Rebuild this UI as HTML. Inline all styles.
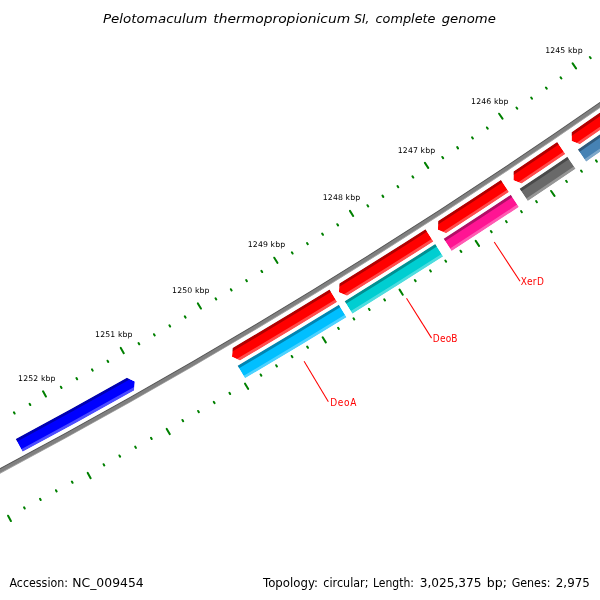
<!DOCTYPE html>
<html><head><meta charset="utf-8"><title>Pelotomaculum thermopropionicum SI, complete genome</title>
<style>
html,body{margin:0;padding:0;background:#fff}
body{width:600px;height:600px;overflow:hidden}
svg{display:block}
text{font-family:"DejaVu Sans","Liberation Sans",sans-serif;fill:#000}
.tk{font-size:7.75px}
.fl{font-family:"DejaVu Sans Condensed","DejaVu Sans","Liberation Sans",sans-serif;font-size:10px;letter-spacing:0.45px;fill:#ff0000}
.ti{font-size:13px;font-style:italic}
.ft{font-size:12px}
</style></head><body>
<svg width="600" height="600" viewBox="0 0 600 600">
<rect width="600" height="600" fill="#fff"/>
<path d="M8.09 515.75 L10.89 521.05 M24.08 507.28 L24.73 508.52 M-1.09 421.99 L-1.75 420.75 M40.03 498.76 L40.69 500.00 M14.60 413.55 L13.94 412.31 M55.96 490.20 L56.63 491.43 M30.28 405.06 L29.61 403.83 M71.87 481.59 L72.54 482.82 M45.92 396.52 L43.04 391.26 M87.75 472.92 L90.63 478.19 M61.54 387.94 L60.87 386.72 M103.60 464.21 L104.28 465.44 M77.13 379.31 L76.45 378.09 M119.43 455.46 L120.11 456.68 M92.70 370.63 L92.02 369.41 M135.23 446.65 L135.91 447.87 M108.24 361.91 L107.55 360.69 M151.00 437.79 L151.69 439.01 M123.75 353.14 L120.79 347.92 M166.74 428.89 L169.70 434.11 M139.24 344.32 L138.55 343.10 M182.46 419.94 L183.16 421.15 M154.70 335.45 L154.00 334.24 M198.15 410.94 L198.85 412.15 M170.13 326.54 L169.43 325.33 M213.81 401.89 L214.52 403.10 M185.54 317.58 L184.83 316.37 M229.45 392.80 L230.15 394.01 M200.92 308.57 L197.88 303.40 M245.06 383.66 L248.10 388.83 M216.27 299.51 L215.55 298.31 M260.64 374.47 L261.35 375.67 M231.59 290.41 L230.87 289.21 M276.19 365.23 L276.90 366.43 M246.89 281.26 L246.17 280.06 M291.71 355.94 L292.43 357.14 M262.15 272.07 L261.43 270.87 M307.20 346.61 L307.93 347.81 M277.39 262.83 L274.27 257.70 M322.67 337.23 L325.79 342.36 M292.60 253.54 L291.87 252.34 M338.11 327.81 L338.84 329.00 M307.78 244.20 L307.05 243.01 M353.52 318.33 L354.25 319.52 M322.94 234.82 L322.20 233.63 M368.90 308.81 L369.63 310.00 M338.06 225.40 L337.32 224.21 M384.25 299.24 L384.99 300.43 M353.16 215.92 L349.96 210.85 M399.57 289.63 L402.76 294.71 M368.23 206.41 L367.48 205.22 M414.86 279.97 L415.61 281.15 M383.26 196.84 L382.51 195.66 M430.12 270.26 L430.87 271.44 M398.27 187.23 L397.52 186.05 M445.35 260.51 L446.11 261.69 M413.25 177.57 L412.49 176.40 M460.56 250.71 L461.32 251.88 M428.20 167.87 L424.93 162.84 M475.73 240.86 L479.00 245.89 M443.12 158.12 L442.35 156.95 M490.87 230.97 L491.64 232.14 M458.01 148.33 L457.24 147.16 M505.98 221.03 L506.75 222.20 M472.87 138.49 L472.10 137.33 M521.07 211.04 L521.84 212.21 M487.70 128.61 L486.92 127.44 M536.12 201.01 L536.89 202.18 M502.50 118.68 L499.15 113.70 M551.14 190.94 L554.49 195.91 M517.27 108.71 L516.49 107.55 M566.13 180.81 L566.91 181.97 M532.01 98.69 L531.22 97.53 M581.09 170.64 L581.87 171.80 M546.72 88.62 L545.93 87.47 M596.01 160.43 L596.81 161.58 M561.40 78.51 L560.60 77.36 M576.04 68.36 L572.62 63.43 M590.66 58.16 L589.86 57.01 M605.24 47.92 L604.44 46.77" stroke="#008000" stroke-width="2.0" stroke-linecap="round" fill="none"/>
<clipPath id="c1"><path d="M-88.64 514.16 A5882.85 5882.85 0 0 0 698.45 31.83 L701.51 36.03 A5888.05 5888.05 0 0 1 -86.28 518.79 Z"/></clipPath>
<g clip-path="url(#c1)">
<path d="M-88.64 514.16 A5882.85 5882.85 0 0 0 698.45 31.83 L701.51 36.03 A5888.05 5888.05 0 0 1 -86.28 518.79 Z" fill="#808080"/>
<path d="M-93.67 515.60 A5881.85 5881.85 0 0 0 702.02 28.00 L703.22 29.65 A5883.89 5883.89 0 0 1 -92.75 517.41 Z" fill="#000" fill-opacity="0.3"/>
<path d="M-91.33 520.19 A5887.01 5887.01 0 0 0 705.05 32.17 L706.25 33.82 A5889.05 5889.05 0 0 1 -90.41 522.01 Z" fill="#fff" fill-opacity="0.3"/>
</g>
<clipPath id="c2"><path d="M15.71 438.96 A5864.60 5864.60 0 0 0 126.88 377.68 L134.83 381.58 L134.07 390.39 A5879.20 5879.20 0 0 1 22.62 451.82 Z"/></clipPath>
<g clip-path="url(#c2)">
<path d="M15.71 438.96 A5864.60 5864.60 0 0 0 126.88 377.68 L134.83 381.58 L134.07 390.39 A5879.20 5879.20 0 0 1 22.62 451.82 Z" fill="#0000ff"/>
<path d="M6.94 442.53 A5863.60 5863.60 0 0 0 141.33 368.34 L143.26 371.75 A5867.52 5867.52 0 0 1 8.79 445.98 Z" fill="#000" fill-opacity="0.3"/>
<path d="M12.92 453.71 A5876.28 5876.28 0 0 0 147.60 379.36 L149.54 382.77 A5880.20 5880.20 0 0 1 14.77 457.16 Z" fill="#fff" fill-opacity="0.3"/>
</g>
<clipPath id="c3"><path d="M329.52 289.54 A5891.70 5891.70 0 0 1 232.60 347.94 L231.98 356.74 L239.99 360.47 A5906.25 5906.25 0 0 0 337.15 301.93 Z"/></clipPath>
<g clip-path="url(#c3)">
<path d="M329.52 289.54 A5891.70 5891.70 0 0 1 232.60 347.94 L231.98 356.74 L239.99 360.47 A5906.25 5906.25 0 0 0 337.15 301.93 Z" fill="#ff0000"/>
<path d="M223.36 352.22 A5890.70 5890.70 0 0 0 333.37 285.99 L335.42 289.32 A5894.61 5894.61 0 0 1 225.33 355.59 Z" fill="#000" fill-opacity="0.3"/>
<path d="M229.76 363.12 A5903.34 5903.34 0 0 0 340.01 296.75 L342.06 300.08 A5907.25 5907.25 0 0 1 231.74 366.49 Z" fill="#fff" fill-opacity="0.3"/>
</g>
<clipPath id="c4"><path d="M425.52 229.15 A5891.70 5891.70 0 0 1 339.37 283.46 L338.94 292.28 L347.02 295.84 A5906.25 5906.25 0 0 0 433.39 241.39 Z"/></clipPath>
<g clip-path="url(#c4)">
<path d="M425.52 229.15 A5891.70 5891.70 0 0 1 339.37 283.46 L338.94 292.28 L347.02 295.84 A5906.25 5906.25 0 0 0 433.39 241.39 Z" fill="#ff0000"/>
<path d="M330.22 287.94 A5890.70 5890.70 0 0 0 429.31 225.53 L431.42 228.82 A5894.61 5894.61 0 0 1 332.27 291.26 Z" fill="#000" fill-opacity="0.3"/>
<path d="M336.85 298.70 A5903.34 5903.34 0 0 0 436.15 236.16 L438.27 239.44 A5907.25 5907.25 0 0 1 338.90 302.03 Z" fill="#fff" fill-opacity="0.3"/>
</g>
<clipPath id="c5"><path d="M500.93 179.88 A5891.70 5891.70 0 0 1 438.19 220.99 L437.94 229.81 L446.09 233.21 A5906.25 5906.25 0 0 0 508.98 192.00 Z"/></clipPath>
<g clip-path="url(#c5)">
<path d="M500.93 179.88 A5891.70 5891.70 0 0 1 438.19 220.99 L437.94 229.81 L446.09 233.21 A5906.25 5906.25 0 0 0 508.98 192.00 Z" fill="#ff0000"/>
<path d="M429.13 225.64 A5890.70 5890.70 0 0 0 504.66 176.20 L506.83 179.45 A5894.61 5894.61 0 0 1 431.25 228.93 Z" fill="#000" fill-opacity="0.3"/>
<path d="M435.98 236.27 A5903.34 5903.34 0 0 0 511.66 186.72 L513.83 189.98 A5907.25 5907.25 0 0 1 438.09 239.56 Z" fill="#fff" fill-opacity="0.3"/>
</g>
<clipPath id="c6"><path d="M557.16 142.06 A5891.70 5891.70 0 0 1 513.56 171.47 L513.44 180.29 L521.64 183.56 A5906.25 5906.25 0 0 0 565.35 154.08 Z"/></clipPath>
<g clip-path="url(#c6)">
<path d="M557.16 142.06 A5891.70 5891.70 0 0 1 513.56 171.47 L513.44 180.29 L521.64 183.56 A5906.25 5906.25 0 0 0 565.35 154.08 Z" fill="#ff0000"/>
<path d="M504.57 176.26 A5890.70 5890.70 0 0 0 560.84 138.33 L563.05 141.56 A5894.61 5894.61 0 0 1 506.74 179.51 Z" fill="#000" fill-opacity="0.3"/>
<path d="M511.58 186.78 A5903.34 5903.34 0 0 0 567.97 148.77 L570.17 152.00 A5907.25 5907.25 0 0 1 513.74 190.03 Z" fill="#fff" fill-opacity="0.3"/>
</g>
<clipPath id="c7"><path d="M703.65 38.99 A5891.70 5891.70 0 0 1 571.64 132.16 L571.63 140.99 L579.87 144.16 A5906.25 5906.25 0 0 0 712.21 50.76 Z"/></clipPath>
<g clip-path="url(#c7)">
<path d="M703.65 38.99 A5891.70 5891.70 0 0 1 571.64 132.16 L571.63 140.99 L579.87 144.16 A5906.25 5906.25 0 0 0 712.21 50.76 Z" fill="#ff0000"/>
<path d="M562.71 137.06 A5890.70 5890.70 0 0 0 707.22 35.15 L709.53 38.31 A5894.61 5894.61 0 0 1 564.92 140.29 Z" fill="#000" fill-opacity="0.3"/>
<path d="M569.84 147.50 A5903.34 5903.34 0 0 0 714.66 45.37 L716.96 48.53 A5907.25 5907.25 0 0 1 572.04 150.73 Z" fill="#fff" fill-opacity="0.3"/>
</g>
<clipPath id="c8"><path d="M237.59 365.66 A5909.50 5909.50 0 0 0 338.85 304.70 L346.56 317.22 A5924.20 5924.20 0 0 1 245.04 378.33 Z"/></clipPath>
<g clip-path="url(#c8)">
<path d="M237.59 365.66 A5909.50 5909.50 0 0 0 338.85 304.70 L346.56 317.22 A5924.20 5924.20 0 0 1 245.04 378.33 Z" fill="#00bfff"/>
<path d="M232.63 367.41 A5908.50 5908.50 0 0 0 342.72 301.14 L344.79 304.50 A5912.44 5912.44 0 0 1 234.63 370.81 Z" fill="#000" fill-opacity="0.3"/>
<path d="M239.10 378.41 A5921.26 5921.26 0 0 0 349.42 312.00 L351.48 315.36 A5925.20 5925.20 0 0 1 241.09 381.81 Z" fill="#fff" fill-opacity="0.3"/>
</g>
<clipPath id="c9"><path d="M344.65 301.13 A5909.50 5909.50 0 0 0 435.23 244.07 L443.18 256.44 A5924.20 5924.20 0 0 1 352.37 313.64 Z"/></clipPath>
<g clip-path="url(#c9)">
<path d="M344.65 301.13 A5909.50 5909.50 0 0 0 435.23 244.07 L443.18 256.44 A5924.20 5924.20 0 0 1 352.37 313.64 Z" fill="#00ced1"/>
<path d="M339.73 302.98 A5908.50 5908.50 0 0 0 439.03 240.44 L441.16 243.75 A5912.44 5912.44 0 0 1 341.80 306.34 Z" fill="#000" fill-opacity="0.3"/>
<path d="M346.42 313.85 A5921.26 5921.26 0 0 0 445.94 251.17 L448.07 254.48 A5925.20 5925.20 0 0 1 348.49 317.20 Z" fill="#fff" fill-opacity="0.3"/>
</g>
<clipPath id="c10"><path d="M443.65 238.65 A5909.50 5909.50 0 0 0 510.78 194.71 L518.92 206.95 A5924.20 5924.20 0 0 1 451.61 251.01 Z"/></clipPath>
<g clip-path="url(#c10)">
<path d="M443.65 238.65 A5909.50 5909.50 0 0 0 510.78 194.71 L518.92 206.95 A5924.20 5924.20 0 0 1 451.61 251.01 Z" fill="#ff1493"/>
<path d="M438.77 240.61 A5908.50 5908.50 0 0 0 514.52 191.02 L516.70 194.30 A5912.44 5912.44 0 0 1 440.90 243.92 Z" fill="#000" fill-opacity="0.3"/>
<path d="M445.68 251.34 A5921.26 5921.26 0 0 0 521.59 201.64 L523.78 204.92 A5925.20 5925.20 0 0 1 447.81 254.65 Z" fill="#fff" fill-opacity="0.3"/>
</g>
<clipPath id="c11"><path d="M519.62 188.82 A5909.50 5909.50 0 0 0 567.35 156.65 L575.62 168.80 A5924.20 5924.20 0 0 1 527.78 201.05 Z"/></clipPath>
<g clip-path="url(#c11)">
<path d="M519.62 188.82 A5909.50 5909.50 0 0 0 567.35 156.65 L575.62 168.80 A5924.20 5924.20 0 0 1 527.78 201.05 Z" fill="#696969"/>
<path d="M514.78 190.85 A5908.50 5908.50 0 0 0 571.05 152.92 L573.27 156.18 A5912.44 5912.44 0 0 1 516.96 194.13 Z" fill="#000" fill-opacity="0.3"/>
<path d="M521.85 201.47 A5921.26 5921.26 0 0 0 578.24 163.46 L580.46 166.71 A5925.20 5925.20 0 0 1 524.03 204.75 Z" fill="#fff" fill-opacity="0.3"/>
</g>
<clipPath id="c12"><path d="M577.83 149.50 A5909.50 5909.50 0 0 0 714.12 53.39 L722.76 65.28 A5924.20 5924.20 0 0 1 586.13 161.63 Z"/></clipPath>
<g clip-path="url(#c12)">
<path d="M577.83 149.50 A5909.50 5909.50 0 0 0 714.12 53.39 L722.76 65.28 A5924.20 5924.20 0 0 1 586.13 161.63 Z" fill="#4682b4"/>
<path d="M573.00 151.58 A5908.50 5908.50 0 0 0 717.70 49.54 L720.02 52.73 A5912.44 5912.44 0 0 1 575.23 154.84 Z" fill="#000" fill-opacity="0.3"/>
<path d="M580.20 162.12 A5921.26 5921.26 0 0 0 725.21 59.86 L727.53 63.05 A5925.20 5925.20 0 0 1 582.42 165.37 Z" fill="#fff" fill-opacity="0.3"/>
</g>
<path d="M304.09 361.34 L328.38 401.69" stroke="#ff0000" stroke-width="1.05" fill="none"/>
<path d="M406.48 298.28 L431.58 338.13" stroke="#ff0000" stroke-width="1.05" fill="none"/>
<path d="M494.23 241.92 L520.03 281.32" stroke="#ff0000" stroke-width="1.05" fill="none"/>
<text class="fl" x="330.14" y="405.56" style="letter-spacing:0.7px">DeoA</text>
<text class="fl" x="432.86" y="341.99" style="letter-spacing:0.15px">DeoB</text>
<text class="fl" x="520.82" y="285.18" style="letter-spacing:0.4px">XerD</text>
<text class="tk" x="18.10" y="380.70" textLength="37.4" lengthAdjust="spacing">1252 kbp</text>
<text class="tk" x="95.10" y="336.70" textLength="37.4" lengthAdjust="spacing">1251 kbp</text>
<text class="tk" x="172.10" y="292.70" textLength="37.4" lengthAdjust="spacing">1250 kbp</text>
<text class="tk" x="247.80" y="246.70" textLength="37.4" lengthAdjust="spacing">1249 kbp</text>
<text class="tk" x="322.80" y="199.70" textLength="37.4" lengthAdjust="spacing">1248 kbp</text>
<text class="tk" x="397.80" y="152.70" textLength="37.4" lengthAdjust="spacing">1247 kbp</text>
<text class="tk" x="471.10" y="103.70" textLength="37.4" lengthAdjust="spacing">1246 kbp</text>
<text class="tk" x="545.15" y="52.75" textLength="37.4" lengthAdjust="spacing">1245 kbp</text>
<text class="ti" y="23.0"><tspan x="103.0" textLength="104.39" lengthAdjust="spacingAndGlyphs">Pelotomaculum</tspan> <tspan x="213.3" textLength="136.91" lengthAdjust="spacingAndGlyphs">thermopropionicum</tspan> <tspan x="354.2" textLength="15.16" lengthAdjust="spacingAndGlyphs">SI,</tspan> <tspan x="375.5" textLength="60.0" lengthAdjust="spacingAndGlyphs">complete</tspan> <tspan x="441.7" textLength="54.1" lengthAdjust="spacingAndGlyphs">genome</tspan></text>
<text class="ft" y="586.6"><tspan x="9.5" textLength="58.46" lengthAdjust="spacingAndGlyphs">Accession:</tspan> <tspan x="72.27" textLength="71.39" lengthAdjust="spacingAndGlyphs">NC_009454</tspan></text>
<text class="ft" y="586.6"><tspan x="262.98" textLength="55.04" lengthAdjust="spacingAndGlyphs">Topology:</tspan> <tspan x="323.3" textLength="45.17" lengthAdjust="spacingAndGlyphs">circular;</tspan> <tspan x="372.9" textLength="41.05" lengthAdjust="spacingAndGlyphs">Length:</tspan> <tspan x="419.7" textLength="61.74" lengthAdjust="spacingAndGlyphs">3,025,375</tspan> <tspan x="486.76" textLength="20.13" lengthAdjust="spacingAndGlyphs">bp;</tspan> <tspan x="511.7" textLength="38.76" lengthAdjust="spacingAndGlyphs">Genes:</tspan> <tspan x="555.8" textLength="34.03" lengthAdjust="spacingAndGlyphs">2,975</tspan></text>
</svg>
</body></html>
